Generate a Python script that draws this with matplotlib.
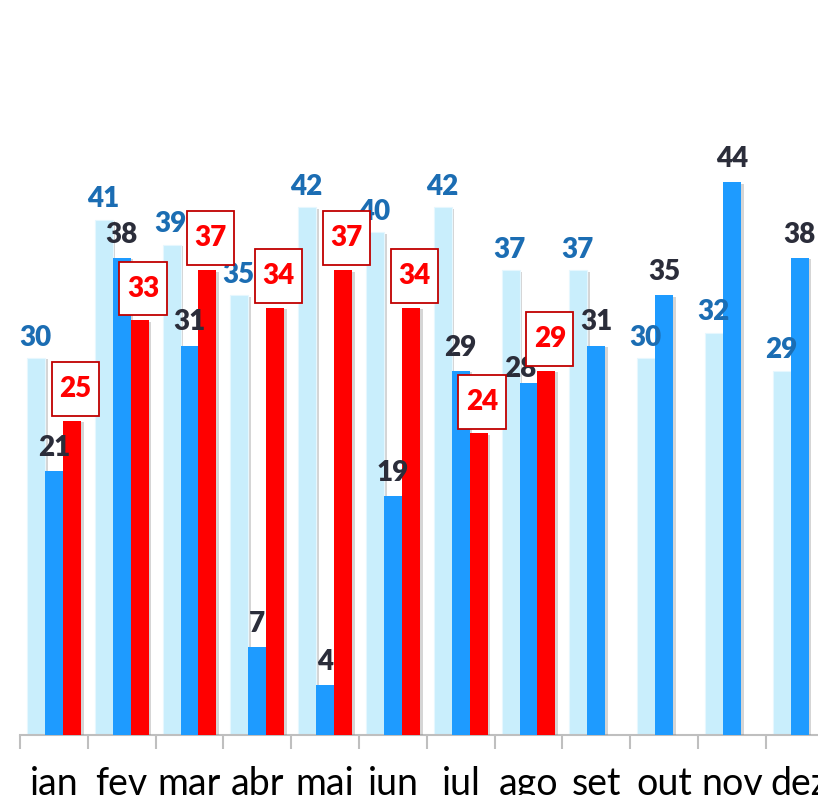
import matplotlib
matplotlib.use("Agg")
import matplotlib.pyplot as plt
import matplotlib.patheffects as pe
from matplotlib.path import Path
import numpy as np

plt.rcParams['font.family'] = ['Lato', 'DejaVu Sans']

months = ['jan', 'fev', 'mar', 'abr', 'mai', 'jun', 'jul', 'ago', 'set', 'out', 'nov', 'dez']
serie_clara = [30, 41, 39, 35, 42, 40, 42, 37, 37, 30, 32, 29]
serie_azul = [21, 38, 31, 7, 4, 19, 29, 28, 31, 35, 44, 38]
serie_vermelha = [25, 33, 37, 34, 37, 34, 24, 29]

c_clara = '#C9EEFC'
c_azul = '#1E9BFF'
c_verm = '#FF0000'


def caixa(x0, y0, width, height, mutation_size):
    # square box with different horizontal / vertical padding
    px = 0.27 * mutation_size
    py = 0.50 * mutation_size
    x0, y0 = x0 - px, y0 - py
    x1, y1 = x0 + width + 2 * px, y0 + height + 2 * py
    return Path([(x0, y0), (x1, y0), (x1, y1), (x0, y1), (x0, y0)], closed=True)


fig = plt.figure(figsize=(8.18, 7.95), dpi=100)
ax = fig.add_axes([20/818, 60/795, 813.6/818, 735/795])

x = np.arange(len(months))
w = 0.265
shadow = [pe.SimplePatchShadow(offset=(2, -1), shadow_rgbFace='#888888', alpha=0.35), pe.Normal()]

b1 = ax.bar(x - w, serie_clara, w, color=c_clara, edgecolor='#E6F7FE', linewidth=0.8, zorder=2)
b2 = ax.bar(x, serie_azul, w, color=c_azul, zorder=3)
xr = np.arange(len(serie_vermelha))
b3 = ax.bar(xr + w, serie_vermelha, w, color=c_verm, zorder=4)
for bars in (b1, b2, b3):
    for p in bars:
        p.set_path_effects(shadow)

fw = 'heavy'
for xi, v in zip(x, serie_clara):
    ax.text(xi - w - 0.01, v + 0.6, str(v), ha='center', va='bottom', fontsize=20,
            fontweight=fw, color='#1B6DB3', zorder=6)
for i, v in enumerate(serie_azul):
    dx, dy = 0, 0.8
    # label pushed down/left when the red box sits right above it
    if i < len(serie_vermelha) and 0 <= serie_vermelha[i] - v < 3:
        dx, dy = -0.12, 0.1
    ax.text(i + dx, v + dy, str(v), ha='center', va='bottom', fontsize=20,
            fontweight=fw, color='#2B2D3A', zorder=6)
for xi, v in zip(xr, serie_vermelha):
    ax.text(xi + w + 0.05, v + 1.5, str(v), ha='center', va='bottom', fontsize=20,
            fontweight=fw, color=c_verm, zorder=7,
            bbox=dict(boxstyle=caixa, facecolor='white', edgecolor='#C00000', linewidth=1.3))

ax.set_xlim(-0.5, 11.5)
ax.set_ylim(0, 58.5)
ax.set_yticks([])
for s in ('top', 'right', 'left'):
    ax.spines[s].set_visible(False)
ax.spines['bottom'].set_color('#BFBFBF')
ax.spines['bottom'].set_linewidth(1.5)

ax.set_xticks(x)
ax.set_xticklabels(months, fontsize=27)
ax.tick_params(axis='x', which='major', length=0, pad=22)
ax.set_xticks(np.arange(-0.5, 12, 1), minor=True)
ax.tick_params(axis='x', which='minor', length=10, width=1.5, color='#BFBFBF')

fig.savefig('out.png', dpi=100)
